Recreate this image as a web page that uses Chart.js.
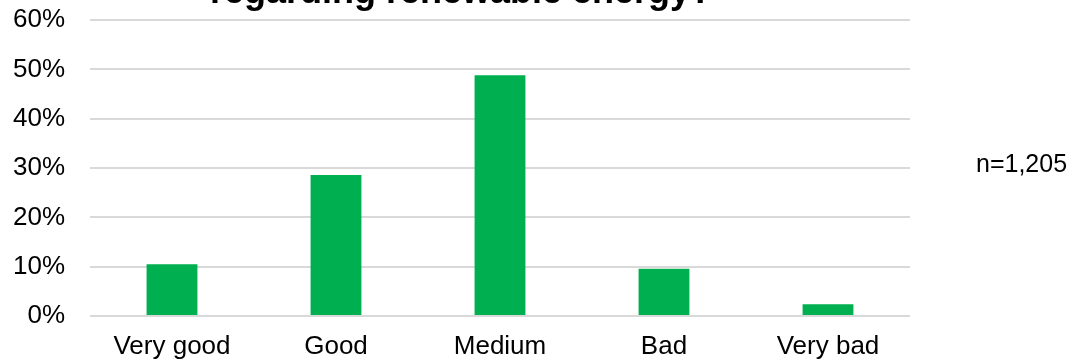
<!DOCTYPE html>
<html>
<head>
<meta charset="utf-8">
<script src="https://cdn.jsdelivr.net/npm/chart.js@4"></script>
<style>
  html, body { margin: 0; padding: 0; background: #fff; }
  #wrap { width: 1072px; height: 360px; position: relative; }
</style>
</head>
<body>
<div id="wrap"><canvas id="assessChart" width="1072" height="360"></canvas></div>
<script>
'use strict';

// survey answers and share of respondents (percent)
const categories = ['Very good', 'Good', 'Medium', 'Bad', 'Very bad'];
const shares = [10.5, 28.6, 48.8, 9.6, 2.4];
const yTicks = [0, 10, 20, 30, 40, 50, 60];
const titleText = 'regarding renewable energy?';
const sampleNote = 'n=1,205';

const fontFamily = 'Arial, "Liberation Sans", sans-serif';

// title line and the sample size note are drawn straight onto the canvas
const extraText = {
  id: 'extraText',
  afterDraw(chart) {
    let ctx = chart.ctx;
    ctx.save();
    ctx.fillStyle = '#000';
    ctx.font = 'bold 36px ' + fontFamily;
    ctx.textAlign = 'center';
    ctx.textBaseline = 'alphabetic';
    ctx.fillText(titleText, 461, 3);

    ctx.font = '25px ' + fontFamily;
    ctx.textAlign = 'left';
    ctx.textBaseline = 'middle';
    ctx.fillText(sampleNote, 976, 165);
    ctx.restore();
  }
};

let ctx = document.getElementById('assessChart').getContext('2d');

// eslint-disable-next-line no-unused-vars
let assessChart = new Chart(ctx, {
  type: 'bar',
  data: {
    labels: categories,
    datasets: [{
      data: shares,
      backgroundColor: '#00B050',
      borderWidth: 0,
      categoryPercentage: 1,
      barPercentage: 0.31
    }]
  },
  options: {
    responsive: false,
    animation: false,
    layout: {
      padding: { top: 20, right: 162, bottom: 0, left: 0 }
    },
    plugins: {
      legend: { display: false },
      tooltip: { enabled: false }
    },
    scales: {
      x: {
        grid: { display: false, drawTicks: false },
        border: { display: false },
        ticks: {
          color: '#000',
          padding: 15,
          maxRotation: 0,
          autoSkip: false,
          font: { family: fontFamily, size: 26 }
        },
        afterFit(scale) {
          scale.height = 44;
          scale.paddingLeft = 0;
          scale.paddingRight = 0;
        }
      },
      y: {
        min: 0,
        max: 60,
        afterBuildTicks(scale) {
          scale.ticks = yTicks.map(v => ({ value: v }));
        },
        grid: { color: '#d9d9d9', lineWidth: 2, drawTicks: false },
        border: { display: false },
        ticks: {
          color: '#000',
          padding: 25,
          font: { family: fontFamily, size: 26 },
          callback: v => v + '%'
        },
        afterFit(scale) {
          scale.width = 90;
          scale.paddingTop = 0;
          scale.paddingBottom = 0;
        }
      }
    }
  },
  plugins: [extraText]
});
</script>
</body>
</html>
